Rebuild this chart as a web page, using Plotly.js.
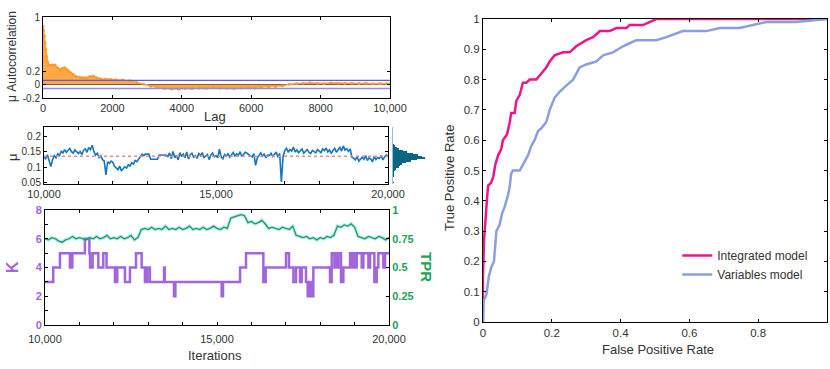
<!DOCTYPE html>
<html>
<head>
<meta charset="utf-8">
<script src="https://cdn.plot.ly/plotly-3.0.1.min.js"></script>
<style>
  html, body { margin: 0; padding: 0; background: #fff; }
  #myDiv { width: 830px; height: 369px; }
</style>
</head>
<body>
<div id="myDiv"></div>
<script>
//  ======== DATA ========

// autocorrelation of mu vs lag
var lags = [0, 20, 40, 60, 80, 100, 130, 170, 220, 280, 350, 420, 490, 560, 630, 700, 780, 870, 950, 1050,
  1150, 1250, 1350, 1450, 1550, 1650, 1800, 1950, 2100, 2300, 2500, 2700, 2900, 3100, 3300, 3500, 3700, 3900, 4100, 4300,
  4500, 4700, 4900, 5100, 5300, 5500, 5700, 5900, 6100, 6300, 6500, 6700, 6900, 7100, 7300, 7500, 7700, 7900, 8100, 8300,
  8500, 8700, 8900, 9100, 9300, 9500, 9700, 9900, 10000];
var acf = [0.86, 0.80, 0.72, 0.62, 0.52, 0.42, 0.34, 0.29, 0.28, 0.29, 0.29, 0.25, 0.22, 0.24, 0.25, 0.22, 0.18, 0.15, 0.12, 0.11,
  0.10, 0.10, 0.12, 0.125, 0.10, 0.085, 0.08, 0.075, 0.07, 0.065, 0.055, 0.03, 0.005, -0.025, -0.045, -0.06, -0.065, -0.065, -0.055, -0.06,
  -0.05, -0.055, -0.045, -0.05, -0.055, -0.06, -0.05, -0.045, -0.05, -0.045, -0.04, -0.035, -0.02, 0.005, 0.015, 0.02, 0.025, 0.02, 0.015, 0.025,
  0.02, 0.015, 0.02, 0.015, 0.02, 0.01, 0.015, 0.01, 0.01];
var confBound = 0.06;
var lagTicks = [0, 2000, 4000, 6000, 8000, 10000];
var lagLabels = ['0', '2000', '4000', '6000', '8000', '10,000'];

// mu trace, one value every 50 iterations from 10,000 to 20,000
var muStart = 10000, muStep = 50;
var mu = [
  0.132, 0.128, 0.141, 0.118, 0.102, 0.125, 0.138, 0.131, 0.144, 0.139, 0.152, 0.147, 0.158, 0.149, 0.155, 0.162, 0.151, 0.146, 0.157, 0.150,
  0.145, 0.152, 0.141, 0.156, 0.160, 0.149, 0.165, 0.158, 0.172, 0.152, 0.140, 0.146, 0.132, 0.138, 0.125, 0.121, 0.075, 0.118, 0.112, 0.120,
  0.116, 0.103, 0.098, 0.092, 0.104, 0.088, 0.095, 0.101, 0.097, 0.108, 0.104, 0.115, 0.110, 0.122, 0.118, 0.128, 0.134, 0.143, 0.138, 0.143,
  0.143, 0.143, 0.126, 0.126, 0.126, 0.126, 0.126, 0.140, 0.140, 0.140, 0.140, 0.140, 0.135, 0.147, 0.128, 0.152, 0.131, 0.139, 0.124, 0.148,
  0.135, 0.143, 0.131, 0.150, 0.127, 0.141, 0.146, 0.133, 0.138, 0.129, 0.145, 0.139, 0.148, 0.132, 0.136, 0.142, 0.125, 0.140, 0.147, 0.134,
  0.138, 0.131, 0.159, 0.134, 0.128, 0.142, 0.136, 0.145, 0.133, 0.140, 0.148, 0.137, 0.144, 0.139, 0.151, 0.135, 0.142, 0.149, 0.146, 0.140,
  0.137, 0.134, 0.145, 0.106, 0.131, 0.139, 0.147, 0.136, 0.143, 0.131, 0.140, 0.138, 0.146, 0.135, 0.142, 0.150, 0.133, 0.146, 0.052, 0.137,
  0.155, 0.162, 0.149, 0.158, 0.153, 0.166, 0.150, 0.157, 0.148, 0.154, 0.160, 0.146, 0.152, 0.158, 0.149, 0.145, 0.155, 0.151, 0.147, 0.158,
  0.152, 0.148, 0.160, 0.154, 0.163, 0.150, 0.157, 0.145, 0.155, 0.162, 0.149, 0.158, 0.165, 0.153, 0.170, 0.156, 0.161, 0.152, 0.160, 0.133,
  0.130, 0.124, 0.135, 0.120, 0.128, 0.133, 0.126, 0.138, 0.122, 0.131, 0.127, 0.118, 0.136, 0.125, 0.132, 0.129, 0.139, 0.124, 0.134, 0.140,
  0.136];
var muMean = 0.136;

// posterior histogram of mu (bin centres, counts)
var muBins = [0.05, 0.055, 0.06, 0.065, 0.07, 0.075, 0.08, 0.085, 0.09, 0.095, 0.1, 0.105, 0.11, 0.115, 0.12, 0.125, 0.13, 0.135, 0.14, 0.145, 0.15, 0.155, 0.16, 0.165, 0.17, 0.175, 0.18];
var muCounts = [2, 1, 1, 1, 2, 2, 3, 4, 6, 10, 18, 22, 28, 40, 55, 75, 100, 92, 78, 62, 45, 30, 20, 12, 6, 3, 1];

// K (number of components) change points
var kIter = [10000, 10240, 10435, 10725, 10795, 11160, 11290, 11310, 11385, 11550, 11695, 11790, 12035, 12100, 12325, 12470, 12645, 12810, 12905, 12975,
  13050, 13460, 13480, 13750, 13790, 15136, 15175, 15670, 15843, 16347, 16415, 17006, 17093, 17220, 17297, 17413, 17462, 17587, 17636, 17704,
  17752, 17800, 18285, 18334, 18411, 18440, 18480, 18530, 18605, 18673, 18867, 18920, 18950, 19012, 19060, 19206, 19255, 19400, 19450, 19574,
  19642, 19690, 19835, 19884, 19932, 20000];
var kVal = [3, 4, 5, 4, 5, 6, 5, 4, 5, 4, 5, 4, 3, 4, 3, 4, 5, 4, 3, 4,
  3, 4, 3, 2, 3, 2, 3, 4, 5, 3, 4, 5, 4, 3, 4, 3, 4, 3, 2, 3,
  2, 4, 3, 5, 4, 5, 4, 5, 3, 4, 5, 4, 5, 4, 5, 4, 5, 4, 5, 3,
  4, 5, 4, 5, 5, 5];

// TPR trace, one value every 100 iterations
var tprStart = 10000, tprStep = 100;
var tpr = [
  0.75, 0.74, 0.76, 0.75, 0.73, 0.72, 0.74, 0.75, 0.77, 0.75, 0.76, 0.75, 0.74, 0.76, 0.75, 0.77, 0.75, 0.76, 0.78, 0.75,
  0.76, 0.75, 0.77, 0.75, 0.76, 0.78, 0.74, 0.76, 0.83, 0.84, 0.83, 0.85, 0.83, 0.84, 0.83, 0.86, 0.83, 0.84, 0.83, 0.85,
  0.83, 0.84, 0.86, 0.83, 0.84, 0.83, 0.85, 0.83, 0.84, 0.86, 0.84, 0.83, 0.85, 0.84, 0.93, 0.94, 0.95, 0.96, 0.95, 0.89,
  0.90, 0.88, 0.89, 0.91, 0.88, 0.84, 0.85, 0.84, 0.83, 0.85, 0.84, 0.83, 0.86, 0.78, 0.77, 0.76, 0.77, 0.75, 0.76, 0.74,
  0.76, 0.75, 0.77, 0.76, 0.78, 0.86, 0.85, 0.87, 0.86, 0.88, 0.85, 0.77, 0.76, 0.75, 0.77, 0.76, 0.75, 0.77, 0.76, 0.74,
  0.76];

var iterTicks = [10000, 11000, 12000, 13000, 14000, 15000, 16000, 17000, 18000, 19000, 20000];
var iterLabels = ['10,000', '', '', '', '', '15,000', '', '', '', '', '20,000'];

// ROC curves
var fprIntegrated = [0, 0, 0.003, 0.008, 0.012, 0.015, 0.024, 0.03, 0.036, 0.044, 0.053, 0.058, 0.07, 0.078, 0.082, 0.092, 0.097, 0.107, 0.116, 0.126,
  0.136, 0.155, 0.17, 0.184, 0.194, 0.208, 0.233, 0.252, 0.271, 0.3, 0.32, 0.34, 0.368, 0.388, 0.417, 0.426, 0.465, 0.484, 0.504, 1];
var tprIntegrated = [0, 0.15, 0.27, 0.37, 0.41, 0.45, 0.46, 0.48, 0.52, 0.55, 0.57, 0.6, 0.62, 0.66, 0.69, 0.69, 0.73, 0.75, 0.79, 0.79,
  0.8, 0.8, 0.82, 0.84, 0.86, 0.88, 0.89, 0.89, 0.91, 0.93, 0.94, 0.96, 0.96, 0.97, 0.97, 0.98, 0.98, 0.99, 1, 1];
var fprVariables = [0, 0.002, 0.01, 0.017, 0.024, 0.032, 0.039, 0.048, 0.056, 0.063, 0.073, 0.078, 0.082, 0.087, 0.107, 0.116, 0.131, 0.14, 0.15, 0.16,
  0.17, 0.184, 0.194, 0.208, 0.223, 0.242, 0.262, 0.281, 0.3, 0.33, 0.349, 0.378, 0.407, 0.426, 0.446, 0.504, 0.533, 0.581, 0.649, 0.688,
  0.746, 0.824, 0.91, 1];
var tprVariables = [0, 0.07, 0.09, 0.15, 0.18, 0.2, 0.3, 0.32, 0.36, 0.38, 0.42, 0.45, 0.49, 0.5, 0.5, 0.52, 0.55, 0.58, 0.6, 0.63,
  0.64, 0.66, 0.7, 0.74, 0.76, 0.78, 0.8, 0.84, 0.85, 0.86, 0.88, 0.89, 0.91, 0.92, 0.93, 0.93, 0.94, 0.96, 0.96, 0.97,
  0.97, 0.99, 0.99, 1];
var rocTicksX = [0, 0.2, 0.4, 0.6, 0.8, 1];
var rocTicksY = [0, 0.1, 0.2, 0.3, 0.4, 0.5, 0.6, 0.7, 0.8, 0.9, 1];

//  ======== STYLE ========
var purple = '#a266dc';
var green = '#1fa35a';
var tealLine = '#17997a';

function iterAxis(arr, start, step) {
  var out = [];
  for (var i = 0; i < arr.length; i++) out.push(start + i * step);
  return out;
}

function box(extra) {
  var a = {
    showline: true, linecolor: '#000', linewidth: 1, mirror: 'ticks',
    ticks: 'inside', ticklen: 3, tickcolor: '#000', showgrid: false, zeroline: false,
    tickfont: {size: 10, color: '#333'}
  };
  for (var k in extra) a[k] = extra[k];
  return a;
}

function label(text, x, y, angle, font) {
  return {text: text, x: x, y: y, xref: 'paper', yref: 'paper', xanchor: 'center', yanchor: 'middle',
          textangle: angle, showarrow: false, font: font};
}

//  ======== TRACES ========
var plotData = [
  // panel 1
  {x: lags, y: acf, xaxis: 'x', yaxis: 'y', type: 'scatter', mode: 'lines+markers', fill: 'tozeroy',
   fillcolor: 'rgba(255,160,50,0.9)', line: {color: '#ffa030', width: 1.5}, marker: {size: 3, color: '#ff9a2a'},
   showlegend: false, hoverinfo: 'skip'},
  {x: [0, 10000], y: [confBound, confBound], xaxis: 'x', yaxis: 'y', mode: 'lines',
   line: {color: '#5a5af0', width: 1.2}, showlegend: false, hoverinfo: 'skip'},
  {x: [0, 10000], y: [-confBound, -confBound], xaxis: 'x', yaxis: 'y', mode: 'lines',
   line: {color: '#8a8af5', width: 1.5}, showlegend: false, hoverinfo: 'skip'},
  // panel 2
  {x: iterAxis(mu, muStart, muStep), y: mu, xaxis: 'x2', yaxis: 'y2', mode: 'lines',
   line: {color: '#1478c0', width: 1.6}, showlegend: false, hoverinfo: 'skip'},
  {x: [10000, 20000], y: [muMean, muMean], xaxis: 'x2', yaxis: 'y2', mode: 'lines',
   line: {color: '#f08a8a', width: 1.5, dash: 'dot'}, showlegend: false, hoverinfo: 'skip'},
  // histogram
  {x: muCounts, y: muBins, xaxis: 'x5', yaxis: 'y5', type: 'bar', orientation: 'h', width: 0.005,
   marker: {color: '#0d6680', line: {width: 0}}, showlegend: false, hoverinfo: 'skip'},
  // panel 3
  {x: iterAxis(tpr, tprStart, tprStep), y: tpr, xaxis: 'x3', yaxis: 'y4', mode: 'lines',
   line: {color: 'rgba(40,190,150,0.3)', width: 3.5}, showlegend: false, hoverinfo: 'skip'},
  {x: iterAxis(tpr, tprStart, tprStep), y: tpr, xaxis: 'x3', yaxis: 'y4', mode: 'lines',
   line: {color: tealLine, width: 1.3}, showlegend: false, hoverinfo: 'skip'},
  {x: kIter, y: kVal, xaxis: 'x3', yaxis: 'y3', mode: 'lines',
   line: {color: purple, width: 2.5, shape: 'hv'}, showlegend: false, hoverinfo: 'skip'},
  // ROC
  {x: fprIntegrated, y: tprIntegrated, xaxis: 'x6', yaxis: 'y6', mode: 'lines', name: 'Integrated model',
   line: {color: '#f0148c', width: 2.5}},
  {x: fprVariables, y: tprVariables, xaxis: 'x6', yaxis: 'y6', mode: 'lines', name: 'Variables model',
   line: {color: '#8c9ee0', width: 2.5}}
];

//  ======== LAYOUT ========
var layout = {
  width: 830, height: 369,
  margin: {l: 0, r: 0, t: 0, b: 0},
  paper_bgcolor: '#fff', plot_bgcolor: 'rgba(0,0,0,0)',
  font: {family: 'Liberation Sans, Arial, sans-serif', color: '#333'},
  bargap: 0,
  xaxis: box({domain: [0.0518, 0.4699], anchor: 'y', range: [0, 10000], tickvals: lagTicks, ticktext: lagLabels,
    tickfont: {size: 11, color: '#333'}}),
  yaxis: box({domain: [0.7344, 0.9539], anchor: 'x', range: [-0.2, 1], tickvals: [-0.2, 0, 0.2, 1],
    ticktext: ['-0.2', '0', '0.2', '1'], zeroline: true, zerolinecolor: '#222', zerolinewidth: 1.2}),
  xaxis2: box({domain: [0.053, 0.4675], anchor: 'y2', range: [10000, 20000], tickvals: iterTicks, ticktext: iterLabels,
    tickfont: {size: 11, color: '#333'}}),
  yaxis2: box({domain: [0.5014, 0.6558], anchor: 'x2', range: [0.045, 0.232], tickvals: [0.05, 0.1, 0.15, 0.2],
    ticktext: ['0.05', '0.1', '0.15', '0.2']}),
  xaxis5: {domain: [0.4735, 0.514], anchor: 'y5', range: [0, 105], visible: false},
  yaxis5: {domain: [0.5014, 0.6558], anchor: 'x5', range: [0.045, 0.232], showline: true, linecolor: '#86c6dc',
    linewidth: 1, showticklabels: false, ticks: '', showgrid: false, zeroline: false},
  xaxis3: box({domain: [0.0542, 0.4687], anchor: 'y3', range: [10000, 20000], tickvals: iterTicks, ticktext: iterLabels,
    tickfont: {size: 11, color: '#333'}, ticklabelstandoff: 4}),
  yaxis3: box({domain: [0.1192, 0.4309], anchor: 'x3', range: [0, 8], mirror: false,
    tickvals: [0, 1, 2, 3, 4, 5, 6, 7, 8], ticktext: ['0', '', '2', '', '4', '', '6', '', '8'],
    tickfont: {size: 11, color: purple, weight: 'bold'}}),
  yaxis4: box({domain: [0.1192, 0.4309], anchor: 'x3', overlaying: 'y3', side: 'right', range: [0, 1], mirror: false,
    tickvals: [0, 0.25, 0.5, 0.75, 1], ticktext: ['0', '0.25', '0.5', '0.75', '1'],
    tickfont: {size: 11, color: green, weight: 'bold'}}),
  xaxis6: box({domain: [0.5819, 0.9964], anchor: 'y6', range: [0, 1], tickvals: rocTicksX,
    ticktext: ['0', '0.2', '0.4', '0.6', '0.8', '1'], tickfont: {size: 11.5, color: '#333'}}),
  yaxis6: box({domain: [0.1274, 0.9485], anchor: 'x6', range: [0, 1], tickvals: rocTicksY,
    ticktext: ['0', '0.1', '0.2', '0.3', '0.4', '0.5', '0.6', '0.7', '0.8', '0.9', '1'], tickfont: {size: 11.5, color: '#333'}}),
  legend: {x: 0.816, y: 0.347, xanchor: 'left', yanchor: 'top', bgcolor: 'rgba(0,0,0,0)',
    font: {size: 12, color: '#333'}, tracegroupgap: 0},
  annotations: [
    label('μ Autocorrelation', 0.0145, 0.8455, -90, {size: 12}),
    label('Lag', 0.259, 0.6856, 0, {size: 13}),
    label('μ', 0.0145, 0.5745, -90, {size: 13}),
    label('K', 0.0145, 0.2764, -90, {size: 16, color: purple, weight: 'bold'}),
    label('TPR', 0.5145, 0.2764, 90, {size: 15, color: green, weight: 'bold'}),
    label('Iterations', 0.259, 0.036, 0, {size: 13}),
    label('True Positive Rate', 0.541, 0.5176, -90, {size: 13}),
    label('False Positive Rate', 0.7928, 0.0515, 0, {size: 13})
  ]
};

Plotly.newPlot('myDiv', plotData, layout, {displayModeBar: false, staticPlot: true});
</script>
</body>
</html>
